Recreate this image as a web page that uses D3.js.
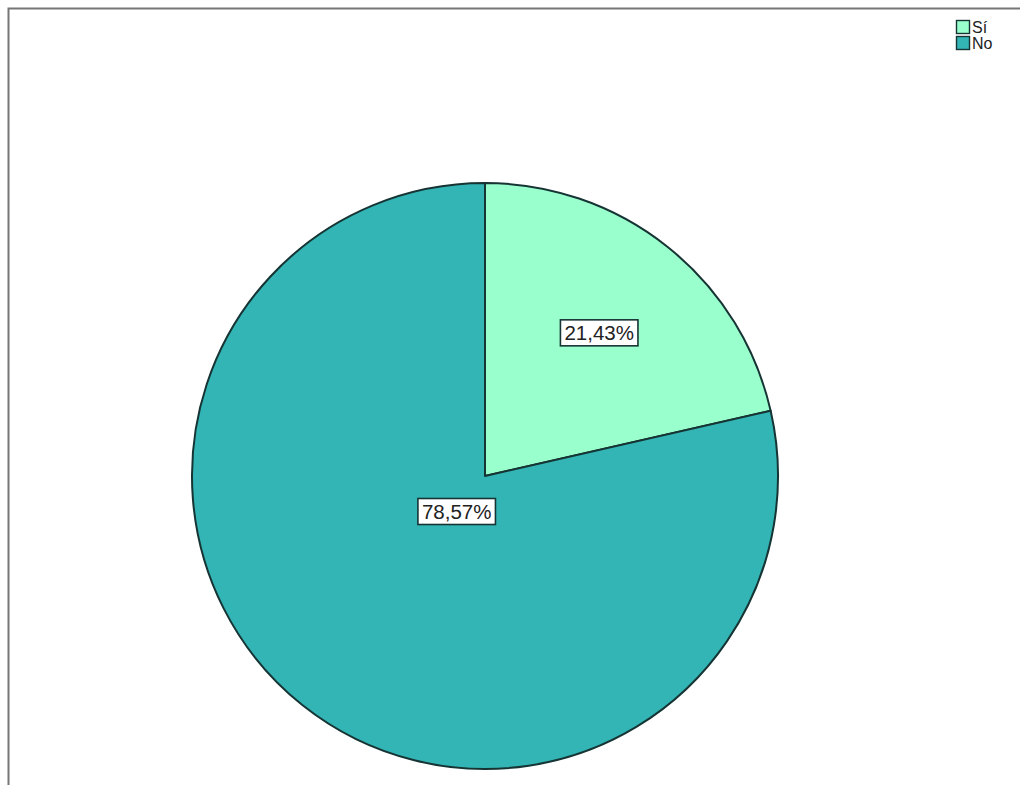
<!DOCTYPE html>
<html>
<head>
<meta charset="utf-8">
<script src="https://cdn.jsdelivr.net/npm/d3@7"></script>
<style>
  html, body { margin: 0; padding: 0; background: #fff; }
  svg { display: block; }
</style>
</head>
<body>
<svg id="chart" width="1020" height="785"></svg>
<script>
// Answers and their percentage shares
const categories = ["Sí", "No"];
const percents = [21.43, 78.57];
const percentLabels = ["21,43%", "78,57%"];
const colors = ["#99ffcc", "#33b5b5"];

const W = 1020, H = 785;
const svg = d3.select("#chart");

// Outer frame (only top and left edges fall inside the view)
svg.append("rect")
  .attr("x", 8.5).attr("y", 8.5)
  .attr("width", W + 20).attr("height", H + 20)
  .attr("fill", "#fff")
  .attr("stroke", "#777").attr("stroke-width", 2);

const cx = 485, cy = 476, r = 293;

const pie = d3.pie().sort(null).value(d => d.value);
const arcs = pie(categories.map((c, i) => ({ cat: c, value: percents[i], label: percentLabels[i], color: colors[i] })));
const arc = d3.arc().innerRadius(0).outerRadius(r);

const g = svg.append("g").attr("transform", `translate(${cx},${cy})`);

g.selectAll("path.slice")
  .data(arcs)
  .enter().append("path")
  .attr("class", "slice")
  .attr("d", arc)
  .attr("fill", d => d.data.color)
  .attr("stroke", "#163434")
  .attr("stroke-width", 2)
  .attr("stroke-linejoin", "round");

// Percentage labels in boxes, placed along each slice's mid-angle
const labelRatio = [0.625, 0.155];
arcs.forEach((d, i) => {
  const mid = (d.startAngle + d.endAngle) / 2;
  const lr = r * labelRatio[i];
  const x = Math.sin(mid) * lr, y = -Math.cos(mid) * lr;
  const lg = g.append("g").attr("transform", `translate(${x},${y})`);
  const t = lg.append("text")
    .attr("text-anchor", "middle")
    .attr("dy", "0.36em")
    .attr("font-family", "Liberation Sans, Arial, sans-serif")
    .attr("font-size", 20.5)
    .attr("fill", "#222")
    .text(d.data.label);
  const bb = t.node().getBBox();
  lg.insert("rect", "text")
    .attr("x", bb.x - 4).attr("y", -13)
    .attr("width", bb.width + 8).attr("height", 26)
    .attr("fill", "#fff")
    .attr("stroke", "#163434")
    .attr("stroke-width", 1.6);
});

// Legend
const legend = svg.append("g").attr("transform", "translate(956,20)");
categories.forEach((c, i) => {
  const row = legend.append("g").attr("transform", `translate(0,${i * 16})`);
  row.append("rect")
    .attr("x", 0.5).attr("y", 0.5)
    .attr("width", 13).attr("height", 13)
    .attr("fill", colors[i])
    .attr("stroke", "#163434").attr("stroke-width", 1.4);
  row.append("text")
    .attr("x", 16).attr("y", 13)
    .attr("font-family", "Liberation Sans, Arial, sans-serif")
    .attr("font-size", 16)
    .attr("fill", "#222")
    .text(c);
});
</script>
</body>
</html>
